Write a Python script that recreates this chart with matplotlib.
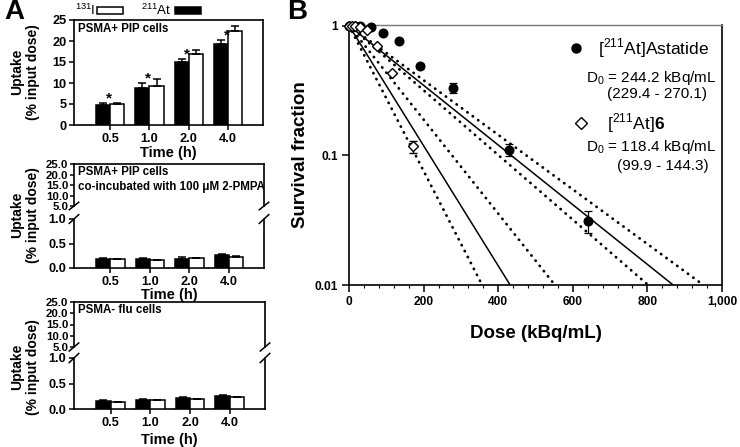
"""
Uptake (panel A) and clonogenic survival (panel B) figure.
"""

import matplotlib
matplotlib.use("Agg")
import matplotlib.pyplot as plt
import matplotlib.ticker as mticker
from matplotlib.patches import Rectangle

plt.rcParams["font.family"] = ["Liberation Sans", "DejaVu Sans"]
plt.rcParams["mathtext.fontset"] = "custom"
plt.rcParams["mathtext.rm"] = "Liberation Sans"
plt.rcParams["mathtext.bf"] = "Liberation Sans:bold"

W, H = 740, 447

# ---- panel A data -------------------------------------------------------
times = ["0.5", "1.0", "2.0", "4.0"]

pip_at = [4.8, 8.7, 15.1, 19.3]
pip_at_err = [0.4, 1.3, 0.7, 1.0]
pip_i = [5.0, 9.4, 16.9, 22.4]
pip_i_err = [0.3, 1.5, 1.0, 1.2]

pmpa_at = [0.19, 0.19, 0.19, 0.27]
pmpa_at_err = [0.01, 0.01, 0.03, 0.01]
pmpa_i = [0.18, 0.16, 0.20, 0.23]
pmpa_i_err = [0.01, 0.01, 0.01, 0.01]

flu_at = [0.15, 0.18, 0.22, 0.26]
flu_at_err = [0.03, 0.01, 0.01, 0.01]
flu_i = [0.13, 0.17, 0.19, 0.23]
flu_i_err = [0.01, 0.01, 0.01, 0.01]

# ---- panel B data -------------------------------------------------------
ast_dose = [0, 15, 30, 60, 90, 133, 190, 280, 430, 640]
ast_sf = [1.0, 1.0, 0.99, 0.97, 0.87, 0.76, 0.49, 0.33, 0.11, 0.031]
ast_err = [0, 0, 0, 0, 0.01, 0.01, 0.02, 0.03, 0.012, 0.006]

c6_dose = [0, 7, 15, 30, 49, 74, 115, 172]
c6_sf = [1.0, 1.0, 0.99, 0.98, 0.93, 0.70, 0.43, 0.117]
c6_err = [0, 0, 0, 0, 0, 0.01, 0.01, 0.012]

# dose at which each fitted line (and its 95% CI) reaches SF = 0.01
ast_fit_end = [869, 802, 950]
c6_fit_end = [432, 357, 552]


def px_axes(left, top, right, bottom):
    return [left / W, 1 - bottom / H, (right - left) / W, (bottom - top) / H]


def draw_bars(ax, at, at_err, iod, iod_err):
    x = list(range(len(times)))
    w = 0.36
    kw = dict(width=w, edgecolor="black", linewidth=1.1, zorder=3,
              error_kw=dict(elinewidth=1.1, capsize=3, capthick=1.1, ecolor="black"))
    ax.bar([p - w / 2 for p in x], at, color="black",
           yerr=[[0] * len(at), at_err], **kw)
    ax.bar([p + w / 2 for p in x], iod, color="white",
           yerr=[[0] * len(iod), iod_err], **kw)
    ax.set_xlim(-0.92, 3.89)


def style_axis(ax, size):
    for s in ax.spines.values():
        s.set_linewidth(1.2)
    ax.tick_params(axis="both", direction="out", width=1.1, length=3.5,
                   labelsize=size, pad=2)
    for lab in ax.get_xticklabels() + ax.get_yticklabels():
        lab.set_fontweight("bold")


def broken_panel(top_px, split_px, low_top_px, bottom_px, right_px,
                 at, at_err, iod, iod_err, note, xl_pad):
    up = fig.add_axes(px_axes(74, top_px, right_px, split_px))
    lo = fig.add_axes(px_axes(74, low_top_px, right_px, bottom_px))
    for ax in (up, lo):
        draw_bars(ax, at, at_err, iod, iod_err)
    up.set_ylim(5, 25)
    up.set_yticks([5, 10, 15, 20, 25])
    up.yaxis.set_major_formatter(mticker.FormatStrFormatter("%.1f"))
    up.set_xticks([])
    up.spines["bottom"].set_visible(False)
    lo.set_ylim(0, 1.0)
    lo.set_yticks([0.0, 0.5, 1.0])
    lo.yaxis.set_major_formatter(mticker.FormatStrFormatter("%.1f"))
    lo.set_xticks(range(len(times)))
    lo.set_xticklabels(times)
    lo.spines["top"].set_visible(False)
    style_axis(up, 8.2)
    style_axis(lo, 9.2)
    up.tick_params(axis="y", length=3, pad=1)
    lo.set_xlabel("Time (h)", fontsize=10.5, fontweight="bold", labelpad=xl_pad)
    up.text(0.02, 0.96, note, transform=up.transAxes, ha="left", va="top",
            fontsize=8.3, fontweight="bold", linespacing=1.35)
    # break marks on both spines
    for ax, y0 in ((up, 0.0), (lo, 1.0)):
        for xs in (0.0, 1.0):
            ax.plot([xs - 0.025, xs + 0.025], [y0 - 0.09, y0 + 0.09],
                    transform=ax.transAxes, color="black", lw=1.1, clip_on=False)


fig = plt.figure(figsize=(W / 100, H / 100), dpi=100)

# ---- A: PSMA+ PIP ------------------------------------------------------
axA = fig.add_axes(px_axes(74, 20, 263, 125))
draw_bars(axA, pip_at, pip_at_err, pip_i, pip_i_err)
axA.set_ylim(0, 25)
axA.set_yticks([0, 5, 10, 15, 20, 25])
axA.set_xticks(range(len(times)))
axA.set_xticklabels(times)
style_axis(axA, 9.2)
axA.set_xlabel("Time (h)", fontsize=10.5, fontweight="bold", labelpad=1)
axA.text(0.02, 0.97, "PSMA+ PIP cells", transform=axA.transAxes, ha="left",
         va="top", fontsize=8.3, fontweight="bold")
for i in range(len(times)):
    axA.annotate("*", xy=(i, pip_at[i] + pip_at_err[i]), xytext=(-1, -2),
                 textcoords="offset points", ha="center", va="bottom",
                 fontsize=11, fontweight="bold")

# legend (label before key)
fig.text(95 / W, 1 - 10 / H, r"$^{131}$I", ha="right", va="center", fontsize=9.5)
fig.patches.append(Rectangle((97 / W, 1 - 14 / H), 26 / W, 7 / H, facecolor="white",
                             edgecolor="black", lw=1.1, transform=fig.transFigure))
fig.text(171 / W, 1 - 10 / H, r"$^{211}$At", ha="right", va="center", fontsize=9.5)
fig.patches.append(Rectangle((175 / W, 1 - 14 / H), 26 / W, 7 / H, facecolor="black",
                             edgecolor="black", lw=1.1, transform=fig.transFigure))

broken_panel(164, 206, 219, 268, 264, pmpa_at, pmpa_at_err, pmpa_i, pmpa_i_err,
             "PSMA+ PIP cells\nco-incubated with 100 \u03bcM 2-PMPA", 0)
broken_panel(302, 347, 358, 409, 265, flu_at, flu_at_err, flu_i, flu_i_err,
             "PSMA- flu cells", 3)

for yc in (72, 215, 367):
    fig.text(25 / W, 1 - yc / H, "Uptake\n(% input dose)", rotation=90, ha="center",
             va="center", fontsize=10, fontweight="bold", multialignment="center",
             linespacing=1.15)

fig.text(4 / W, 1 - 12 / H, "A", fontsize=20, fontweight="bold", va="center")
fig.text(287 / W, 1 - 12 / H, "B", fontsize=20, fontweight="bold", va="center")

# ---- B: survival -------------------------------------------------------
axB = fig.add_axes(px_axes(349, 24.5, 722, 285))
axB.set_yscale("log")
axB.set_ylim(0.01, 1.02)
axB.set_xlim(0, 1000)

for ends in (ast_fit_end, c6_fit_end):
    axB.plot([0, ends[0]], [1, 0.01], color="black", lw=1.1, zorder=2)
    for e in ends[1:]:
        axB.plot([0, e], [1, 0.01], color="black", lw=2.0,
                 linestyle=(0, (0.1, 2.3)), dash_capstyle="round", zorder=2)

axB.errorbar(ast_dose, ast_sf, yerr=ast_err, fmt="o", color="black", ms=6.2,
             elinewidth=0.9, capsize=3, capthick=0.9, zorder=4, clip_on=False)
axB.errorbar(c6_dose, c6_sf, yerr=c6_err, fmt="D", mfc="white", mec="black",
             color="black", ms=5.6, mew=1.0, elinewidth=0.9, capsize=3,
             capthick=0.9, zorder=5, clip_on=False)

axB.set_xticks([0, 200, 400, 600, 800, 1000])
axB.xaxis.set_major_formatter(mticker.FuncFormatter(lambda v, p: f"{int(v):,}"))
axB.xaxis.set_minor_locator(mticker.MultipleLocator(40))
axB.set_yticks([0.01, 0.1, 1])
axB.set_yticklabels(["0.01", "0.1", "1"])
axB.yaxis.set_minor_locator(mticker.NullLocator())
for s in axB.spines.values():
    s.set_linewidth(1.2)
axB.spines["top"].set_color("#777777")
axB.spines["top"].set_linewidth(1.0)
axB.tick_params(axis="both", which="major", direction="out", length=5, width=1.1,
                labelsize=8.6, pad=3)
axB.tick_params(axis="x", which="minor", direction="out", length=2.5, width=0.8)
for lab in axB.get_xticklabels() + axB.get_yticklabels():
    lab.set_fontweight("bold")
axB.set_xlabel("Dose (kBq/mL)", fontsize=13.5, fontweight="bold", labelpad=12)
axB.set_ylabel("Survival fraction", fontsize=13.5, fontweight="bold", labelpad=4)

# legend keys and fit results
axB.plot([0.609], [0.91], "o", color="black", ms=6.5, transform=axB.transAxes)
axB.text(0.668, 0.91, r"[$^{211}$At]Astatide", transform=axB.transAxes,
         ha="left", va="center", fontsize=12.5)
axB.text(0.985, 0.795, r"D$_0$ = 244.2 kBq/mL", transform=axB.transAxes,
         ha="right", va="center", fontsize=11)
axB.text(0.826, 0.733, "(229.4 - 270.1)", transform=axB.transAxes,
         ha="center", va="center", fontsize=11)
axB.plot([0.622], [0.622], "D", mfc="white", mec="black", mew=1.0, ms=6,
         transform=axB.transAxes)
axB.text(0.692, 0.622, r"[$^{211}$At]$\mathbf{6}$", transform=axB.transAxes,
         ha="left", va="center", fontsize=12.5)
axB.text(0.985, 0.53, r"D$_0$ = 118.4 kBq/mL", transform=axB.transAxes,
         ha="right", va="center", fontsize=11)
axB.text(0.842, 0.457, "(99.9 - 144.3)", transform=axB.transAxes,
         ha="center", va="center", fontsize=11)

fig.savefig("out.png", dpi=100)
